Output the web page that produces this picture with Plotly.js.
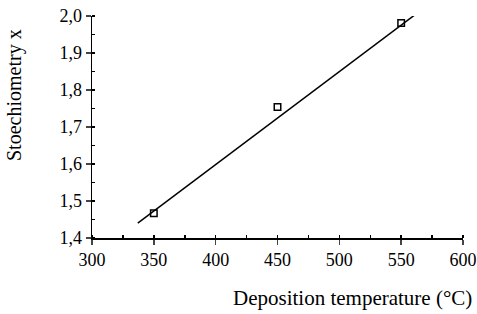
<!DOCTYPE html>
<html>
<head>
<meta charset="utf-8">
<script src="https://cdn.plot.ly/plotly-3.0.1.min.js"></script>
<style>html,body{margin:0;padding:0;background:#fff;}#chart{width:477px;height:314px;}</style>
</head>
<body>
<div id="chart"></div>
<script>
// Measured data
const temperature = [350, 450, 550];
const stoichiometry = [1.467, 1.754, 1.981];
// Fitted line endpoints
const fitTemperature = [337, 565];
const fitStoichiometry = [1.44, 2.013];
const xTicks = [300, 350, 400, 450, 500, 550, 600];
const yTicks = [1.4, 1.5, 1.6, 1.7, 1.8, 1.9, 2.0];

const tickFont = {family: 'Liberation Serif, serif', color: '#000', size: 18};
const xTitleFont = {family: 'Liberation Serif, serif', color: '#000', size: 21};
const yTitleFont = {family: 'Liberation Serif, serif', color: '#000', size: 20};

const traces = [
  {x: fitTemperature, y: fitStoichiometry, mode: 'lines', line: {color: '#000', width: 1.5}, showlegend: false, hoverinfo: 'skip'},
  {x: temperature, y: stoichiometry, mode: 'markers', cliponaxis: false,
   marker: {symbol: 'square-open', size: 6.5, color: '#000', line: {width: 1.5, color: '#000'}}, showlegend: false}
];

const layout = {
  width: 477, height: 314,
  margin: {l: 92, r: 14, t: 16, b: 76},
  paper_bgcolor: '#fff', plot_bgcolor: '#fff',
  separators: ',.',
  font: tickFont,
  xaxis: {range: [300, 600], tickvals: xTicks, ticks: 'outside', ticklen: 5, tickwidth: 1.5,
          showline: true, linewidth: 1.5, linecolor: '#000', showgrid: false, zeroline: false,
          minor: {dtick: 25, ticks: 'inside', ticklen: 3, tickcolor: '#000', showgrid: false},
          tickfont: tickFont},
  yaxis: {range: [1.4, 2.0], tickvals: yTicks, tickformat: '.1f', ticks: 'outside', ticklen: 5, tickwidth: 1.5,
          showline: true, linewidth: 1.5, linecolor: '#000', showgrid: false, zeroline: false,
          minor: {dtick: 0.05, ticks: 'inside', ticklen: 3, tickcolor: '#000', showgrid: false},
          tickfont: tickFont},
  annotations: [
    {text: 'Deposition temperature (°C)', xref: 'paper', yref: 'paper', x: 1.03, y: -0.27,
     xanchor: 'right', yanchor: 'middle', showarrow: false, font: xTitleFont},
    {text: 'Stoechiometry x', xref: 'paper', yref: 'paper', x: -0.207, y: 0.645, textangle: -90,
     xanchor: 'center', yanchor: 'middle', showarrow: false, font: yTitleFont}
  ]
};

Plotly.newPlot('chart', traces, layout, {displayModeBar: false, staticPlot: true});
</script>
</body>
</html>
